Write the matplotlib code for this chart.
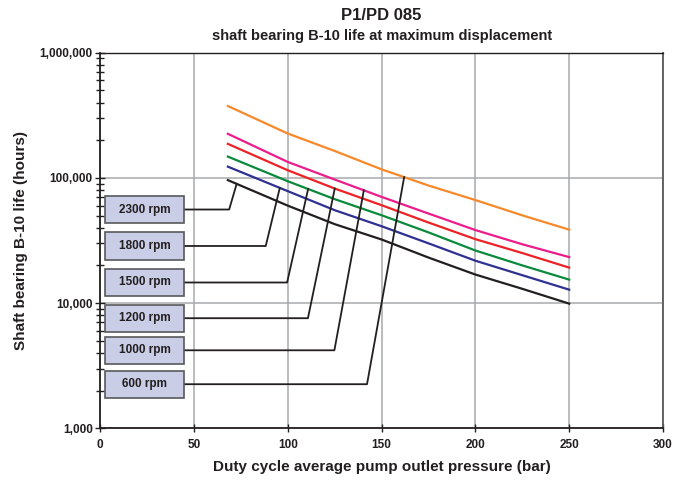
import numpy as np
import matplotlib
matplotlib.use("Agg")
import matplotlib.pyplot as plt
from matplotlib.ticker import FixedLocator, FuncFormatter, LogLocator, NullFormatter
from matplotlib.patches import Rectangle

plt.rcParams['font.family'] = ['Liberation Sans', 'DejaVu Sans']

# ---- data ----
pressure = [68, 100, 125, 150, 175, 200, 225, 250]
life_600 = [375000, 226000, 164000, 117000, 86900, 66500, 50200, 38600]
life_1000 = [225000, 134000, 97000, 70500, 51900, 38300, 29500, 23300]
life_1200 = [187000, 115000, 82200, 60500, 44000, 32400, 25100, 19200]
life_1500 = [148000, 94000, 67600, 50300, 36700, 26300, 20000, 15400]
life_1800 = [123000, 78300, 55200, 41100, 30000, 21800, 16700, 12800]
life_2300 = [96000, 60000, 42700, 32200, 23100, 16900, 13000, 9900]

series_names = ['600 rpm', '1000 rpm', '1200 rpm', '1500 rpm', '1800 rpm', '2300 rpm']
series_values = [life_600, life_1000, life_1200, life_1500, life_1800, life_2300]
series_colors = ['#f7892a', '#ec1c8c', '#ec2227', '#0a8a3c', '#2e3192', '#231f20']

# labels: pressure where leader touches each curve
label_order = ['2300 rpm', '1800 rpm', '1500 rpm', '1200 rpm', '1000 rpm', '600 rpm']
label_target_x = [72.7, 95.7, 110.8, 125, 140.5, 162]

x_ticks = [0, 50, 100, 150, 200, 250, 300]
y_ticks = [1000, 10000, 100000, 1000000]

# ---- layout ----
W, H = 688, 486
fig = plt.figure(figsize=(W / 100, H / 100), dpi=100)
ax_left, ax_right, ax_top, ax_bottom = 100.3, 663, 52.7, 428.3
ax = fig.add_axes([ax_left / W, 1 - ax_bottom / H, (ax_right - ax_left) / W, (ax_bottom - ax_top) / H])

ax.set_yscale('log')
ax.set_xlim(0, 300)
ax.set_ylim(1000, 1000000)

ax.xaxis.set_major_locator(FixedLocator(x_ticks))
ax.yaxis.set_major_locator(FixedLocator(y_ticks))
ax.yaxis.set_minor_locator(LogLocator(base=10, subs=np.arange(2, 10)))
ax.yaxis.set_minor_formatter(NullFormatter())
ax.yaxis.set_major_formatter(FuncFormatter(lambda v, p: f"{int(round(v)):,}"))

ax.grid(True, which='major', color='#a7a9ac', linewidth=1.1, zorder=0)
ax.set_axisbelow(True)

for s in ['left', 'bottom']:
    ax.spines[s].set_color('#231f20')
    ax.spines[s].set_linewidth(1.3)
ax.spines['top'].set_color('#231f20')
ax.spines['top'].set_linewidth(1.0)
ax.spines['right'].set_color('#58595b')
ax.spines['right'].set_linewidth(1.3)

ax.tick_params(axis='y', which='major', direction='inout', length=7, width=1, colors='#231f20',
               labelsize=8.5, pad=2)
ax.tick_params(axis='y', which='minor', direction='inout', length=6, width=1, colors='#231f20')
ax.tick_params(axis='x', which='major', direction='inout', length=6, width=1, colors='#231f20',
               labelsize=8.5, pad=5)
for lab in ax.get_xticklabels() + ax.get_yticklabels():
    lab.set_fontweight('bold')
    lab.set_color('#231f20')

for vals, col in zip(series_values, series_colors):
    ax.plot(pressure, vals, color=col, linewidth=1.6, zorder=3, solid_joinstyle='round')

# ---- label boxes and leader lines ----
box_left = 0.0085
box_w = 0.140
box_h = 0.072
box_cy = [0.5825, 0.4854, 0.3882, 0.2931, 0.2077, 0.1174]
elbow_x = [0.229, 0.294, 0.332, 0.369, 0.416, 0.474]

ax_to_data = ax.transAxes + ax.transData.inverted()
for name, tx, cy, ex in zip(label_order, label_target_x, box_cy, elbow_x):
    idx = series_names.index(name)
    ty = 10 ** np.interp(tx, pressure, np.log10(series_values[idx]))
    p0 = ax_to_data.transform((box_left + box_w, cy))
    p1 = ax_to_data.transform((ex, cy))
    ax.plot([p0[0], p1[0], tx], [p0[1], p1[1], ty], color='#231f20', linewidth=1.3, zorder=4)
    ax.add_patch(Rectangle((box_left, cy - box_h / 2), box_w, box_h, transform=ax.transAxes,
                           facecolor='#c9cde6', edgecolor='#58595b', linewidth=1.2, zorder=5,
                           clip_on=False))
    ax.text(box_left + box_w / 2, cy, name, transform=ax.transAxes, ha='center', va='center',
            fontsize=8.5, fontweight='bold', color='#231f20', zorder=6)

# ---- titles ----
cx = (ax_left + ax_right) / 2 / W
fig.text(cx, 1 - 15 / H, 'P1/PD 085', ha='center', va='center', fontsize=12, fontweight='bold',
         color='#231f20')
fig.text(cx, 1 - 36 / H, 'shaft bearing B-10 life at maximum displacement', ha='center', va='center',
         fontsize=10.5, fontweight='bold', color='#231f20')
ax.set_xlabel('Duty cycle average pump outlet pressure (bar)', fontsize=11, fontweight='bold',
              color='#231f20', labelpad=6)
ax.set_ylabel('Shaft bearing B-10 life (hours)', fontsize=11, fontweight='bold', color='#231f20',
              labelpad=8)

fig.savefig('out.png', dpi=100)
